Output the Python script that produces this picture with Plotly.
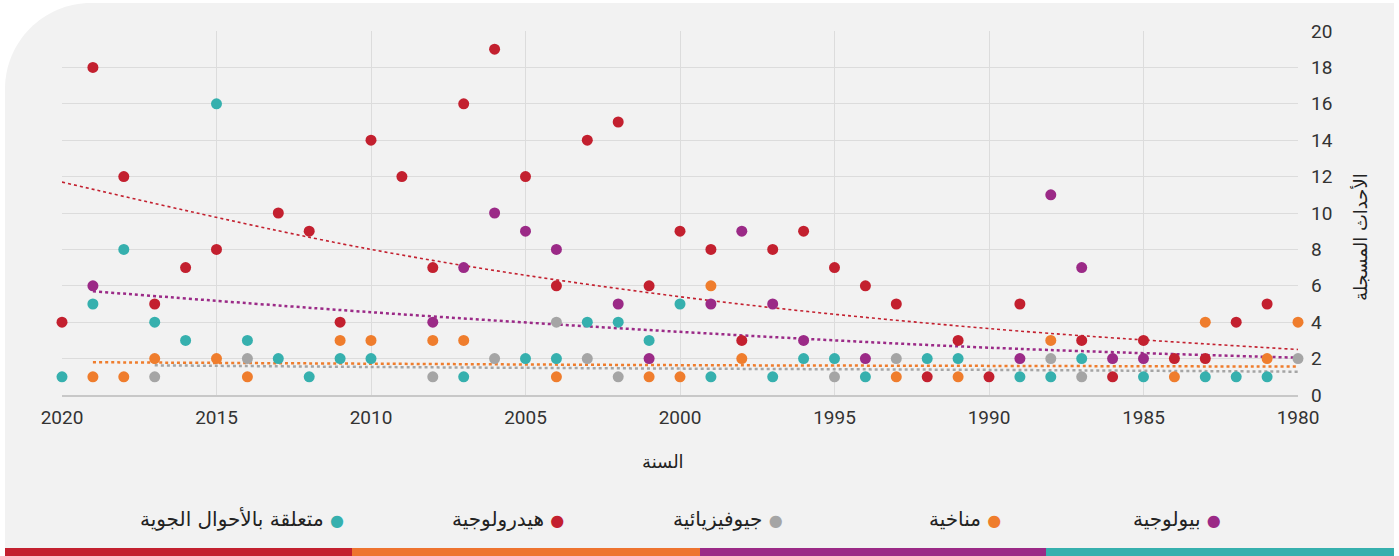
import plotly.graph_objects as go

W, H = 1399, 556
ML, MR, MT, MB = 62, 101, 31, 161

ARABIC = "DejaVu Sans, sans-serif"
NUM = "Roboto, sans-serif"

# series values: year -> number of recorded events
bio_years = [2019, 2008, 2007, 2006, 2005, 2004, 2002, 2001, 1999, 1998, 1997, 1996,
             1994, 1989, 1988, 1987, 1986, 1985]
bio_vals = [6, 4, 7, 10, 9, 8, 5, 2, 5, 9, 5, 3, 2, 2, 11, 7, 2, 2]

clim_years = [2019, 2018, 2017, 2015, 2014, 2011, 2010, 2008, 2007, 2004, 2001, 2000,
              1999, 1998, 1993, 1991, 1988, 1984, 1983, 1981, 1980]
clim_vals = [1, 1, 2, 2, 1, 3, 3, 3, 3, 1, 1, 1, 6, 2, 1, 1, 3, 1, 4, 2, 4]

geo_years = [2017, 2014, 2008, 2006, 2004, 2003, 2002, 1995, 1993, 1988, 1987, 1980]
geo_vals = [1, 2, 1, 2, 4, 2, 1, 1, 2, 2, 1, 2]

hydro_years = [2020, 2019, 2018, 2017, 2016, 2015, 2013, 2012, 2011, 2010, 2009, 2008,
               2007, 2006, 2005, 2004, 2003, 2002, 2001, 2000, 1999, 1998, 1997, 1996,
               1995, 1994, 1993, 1992, 1991, 1990, 1989, 1987, 1986, 1985, 1984, 1983,
               1982, 1981]
hydro_vals = [4, 18, 12, 5, 7, 8, 10, 9, 4, 14, 12, 7, 16, 19, 12, 6, 14, 15, 6, 9, 8, 3,
              8, 9, 7, 6, 5, 1, 3, 1, 5, 3, 1, 3, 2, 2, 4, 5]

met_years = [2020, 2019, 2018, 2017, 2016, 2015, 2014, 2013, 2012, 2011, 2010, 2007,
             2005, 2004, 2003, 2002, 2001, 2000, 1999, 1997, 1996, 1995, 1994, 1992,
             1991, 1989, 1988, 1987, 1985, 1983, 1982, 1981]
met_vals = [1, 5, 8, 4, 3, 16, 3, 2, 1, 2, 2, 1, 2, 2, 4, 4, 3, 5, 1, 1, 2, 2, 1, 2, 2,
            1, 1, 2, 1, 1, 1, 1]

# trend lines
bio_trend_years = [2019, 2010, 2000, 1990, 1980]
bio_trend_vals = [5.7, 4.55, 3.47, 2.6, 2.05]
clim_trend_years = [2019, 2010, 2000, 1990, 1980]
clim_trend_vals = [1.8, 1.72, 1.64, 1.6, 1.56]
geo_trend_years = [2017, 2010, 2000, 1990, 1980]
geo_trend_vals = [1.63, 1.54, 1.45, 1.38, 1.28]
hydro_trend_years = [2020, 2010, 2000, 1990, 1980]
hydro_trend_vals = [11.7, 8.0, 5.4, 3.65, 2.5]

series = [
    ("بيولوجية", "#9b2a87", bio_years, bio_vals, bio_trend_years, bio_trend_vals, 2.5),
    ("مناخية", "#ef7d2d", clim_years, clim_vals, clim_trend_years, clim_trend_vals, 2.5),
    ("جيوفيزيائية", "#a5a5a5", geo_years, geo_vals, geo_trend_years, geo_trend_vals, 2.5),
    ("هيدرولوجية", "#c3202f", hydro_years, hydro_vals, hydro_trend_years, hydro_trend_vals, 1.6),
    ("متعلقة بالأحوال الجوية", "#36b0ae", met_years, met_vals, None, None, 2),
]

x_title = "السنة"
y_title = "الأحداث المسجلة"

fig = go.Figure()

for name, color, yrs, vals, tx, ty, lw in series:
    if tx is None:
        continue
    fig.add_trace(go.Scatter(
        x=tx, y=ty, mode="lines", line_shape="spline", showlegend=False,
        line=dict(color=color, width=lw, dash="dot"), hoverinfo="skip",
    ))

for name, color, yrs, vals, tx, ty, lw in series:
    fig.add_trace(go.Scatter(
        x=yrs, y=vals, mode="markers", name=name, showlegend=False,
        marker=dict(color=color, size=11), cliponaxis=False,
    ))


def px_x(p):
    return (p - ML) / (W - ML - MR)


def px_y(p):
    return (H - MB - p) / (H - MT - MB)


# card background with rounded top-left corner
x0, x1, y0, y1, r = 5, 1394, 3, 548, 86
k = 0.552 * r
path = (f"M {px_x(x0)},{px_y(y1)} L {px_x(x0)},{px_y(y0 + r)} "
        f"C {px_x(x0)},{px_y(y0 + r - k)} {px_x(x0 + r - k)},{px_y(y0)} {px_x(x0 + r)},{px_y(y0)} "
        f"L {px_x(x1)},{px_y(y0)} L {px_x(x1)},{px_y(y1)} Z")
shapes = [dict(type="path", path=path, xref="paper", yref="paper",
               fillcolor="#f2f2f2", line=dict(width=0), layer="below")]

bar_colors = ["#c3202f", "#ee7430", "#9b2a87", "#36b0ae"]
bar_edges = [5, 352, 700, 1046, 1394]
for i, c in enumerate(bar_colors):
    shapes.append(dict(type="rect", xref="paper", yref="paper",
                       x0=px_x(bar_edges[i]), x1=px_x(bar_edges[i + 1]),
                       y0=px_y(556), y1=px_y(548), fillcolor=c,
                       line=dict(width=0), layer="below"))

annotations = [
    dict(text=x_title, x=px_x(663), y=px_y(461), xref="paper", yref="paper",
         xanchor="center", yanchor="middle", showarrow=False,
         font=dict(family=ARABIC, size=18, color="#222")),
    dict(text=y_title, x=px_x(1360), y=px_y(237), xref="paper", yref="paper",
         xanchor="center", yanchor="middle", showarrow=False, textangle=-90,
         font=dict(family=ARABIC, size=18, color="#222")),
]

legend_x = [1223, 1003, 785, 566, 346]
for (name, color, *_), lx in zip(series, legend_x):
    annotations.append(dict(
        text=f"{name} <span style='color:{color};font-size:16px'>●</span>",
        x=px_x(lx), y=px_y(519), xref="paper", yref="paper",
        xanchor="right", yanchor="middle", showarrow=False,
        font=dict(family=ARABIC, size=20, color="#222"),
    ))

fig.update_layout(
    width=W, height=H,
    margin=dict(l=ML, r=MR, t=MT, b=MB),
    paper_bgcolor="white",
    plot_bgcolor="#f2f2f2",
    shapes=shapes,
    annotations=annotations,
    showlegend=False,
    xaxis=dict(
        range=[2020, 1980], tick0=1980, dtick=5, showgrid=True,
        gridcolor="#dcdcdc", gridwidth=1, zeroline=False,
        showline=True, linecolor="#c8c8c8", linewidth=2,
        ticks="", ticklabelstandoff=4,
        tickfont=dict(family=NUM, size=19, color="#333"),
    ),
    yaxis=dict(
        range=[0, 20], dtick=2, side="right", showgrid=True,
        gridcolor="#dcdcdc", gridwidth=1, zeroline=False,
        showline=False, ticks="", ticklabelstandoff=12,
        tickfont=dict(family=NUM, size=19, color="#333"),
    ),
)

# drop the default page margin so the figure sits at the window's top-left corner
fig.write_html("out.html", config={"displayModeBar": False},
               post_script="document.body.style.margin='0';")
